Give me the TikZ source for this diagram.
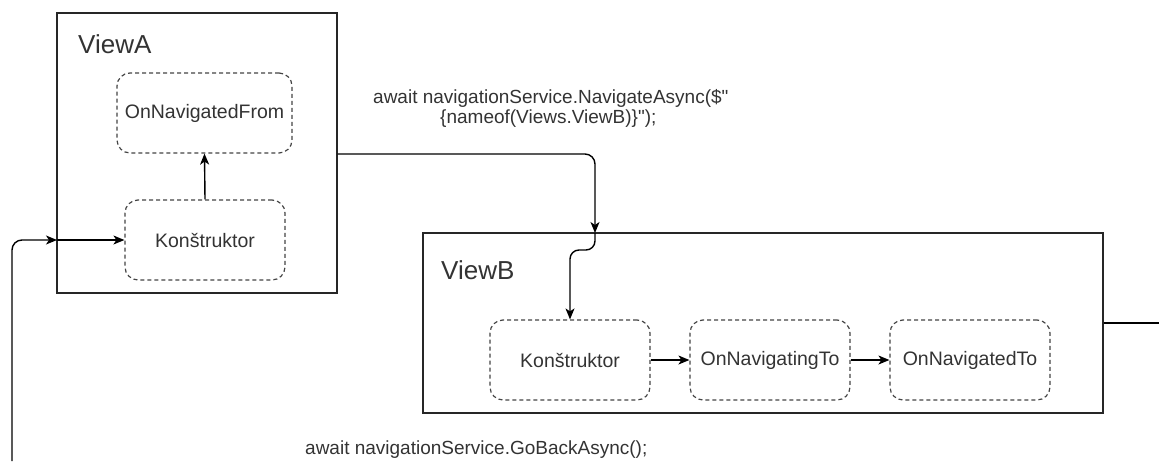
\documentclass[tikz,border=0pt]{standalone}
\usepackage{fontspec}
\setmainfont{Liberation Sans}
\usetikzlibrary{arrows.meta}
\definecolor{txt}{HTML}{333333}
\definecolor{dash}{HTML}{444444}
\tikzset{
  view/.style={draw=black!85, line width=1.4pt, fill=none},
  stepbox/.style={draw=dash, dashed, dash pattern=on 4pt off 3pt, line width=1.2pt, rounded corners=13pt,
    minimum width=160pt, minimum height=80pt, inner sep=0pt, text=txt, font=\fontsize{19.5}{23}\selectfont},
  viewlabel/.style={anchor=base west, text=txt, inner sep=0pt, font=\fontsize{26}{30}\selectfont},
  edgelabel/.style={text=txt, inner sep=0pt, font=\fontsize{19}{22}\selectfont},
  conn/.style={draw=black, line width=1.4pt, -{Stealth[length=11pt,width=9pt,inset=3pt]}},
  plain/.style={draw=black, line width=1.4pt},
}
\begin{document}
\begin{tikzpicture}[x=1pt,y=-1pt]
\useasboundingbox (0,0) rectangle (1159,461);
% ViewA
\node[view, minimum width=280pt, minimum height=280pt, inner sep=0pt] (va) at (197,153) {};
\node[viewlabel] (valab) at (78,53) {ViewA};
\node[stepbox, minimum width=175pt] (from) at (204.5,113) {OnNavigatedFrom};
\node[stepbox] (ka) at (205,240) {Konštruktor};
% ViewB
\node[view, minimum width=680pt, minimum height=180pt, inner sep=0pt] (vb) at (763,323) {};
\node[viewlabel] (vblab) at (441,279) {ViewB};
\node[stepbox] (kb) at (570,360) {Konštruktor};
\node[stepbox] (ning) at (770,360) {OnNavigatingTo};
\node[stepbox] (ned) at (970,360) {OnNavigatedTo};
% connection points
\coordinate (aout) at (va.east |- 0,154);
\coordinate (bin) at (595,233);
\coordinate (ain) at (57,240);
\coordinate (bottom) at (12,461);
\coordinate (rightend) at (1159,323);
% edges
\draw[conn] (ka.north) -- (from.south);
\draw[conn, rounded corners=10pt] (aout) -| (bin);
\draw[conn, rounded corners=9pt] (bin) -- (595,250) -- (570,250) -- (kb.north);
\draw[conn] (kb.east) -- (ning.west);
\draw[conn] (ning.east) -- (ned.west);
\draw[plain] (vb.east) -- (rightend);
\draw[conn, rounded corners=10pt] (bottom) |- (ain);
\draw[conn] (ain) -- (ka.west);
% labels
\node[edgelabel, anchor=base west] (l1) at (373,103) {await navigationService.NavigateAsync(\$\textquotedbl};
\node[edgelabel, anchor=base west] (l2) at (440,123) {\{nameof(Views.ViewB)\}\textquotedbl);};
\node[edgelabel, anchor=base west] (l3) at (305,454) {await navigationService.GoBackAsync();};
\end{tikzpicture}
\end{document}
